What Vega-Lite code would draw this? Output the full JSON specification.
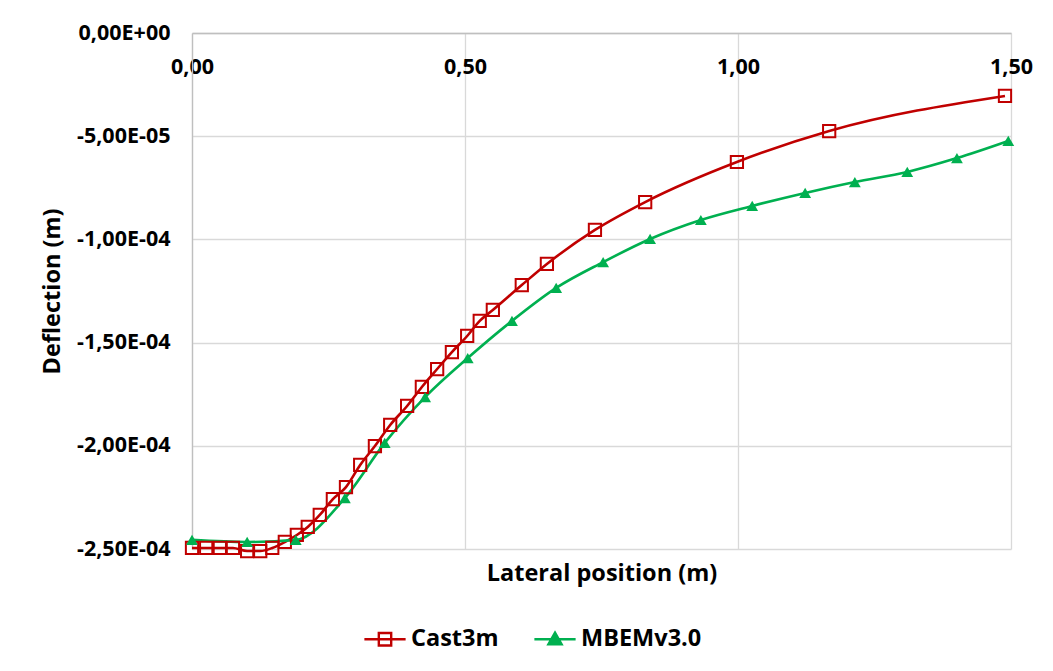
{
  "$schema": "https://vega.github.io/schema/vega-lite/v6.json",
  "width": 819,
  "height": 516,
  "autosize": {"type": "none"},
  "padding": {"left": 192, "top": 33, "right": 42, "bottom": 122},
  "background": "white",
  "config": {
    "font": "Open Sans",
    "view": {"stroke": null},
    "axis": {
      "labelFont": "Open Sans",
      "labelFontWeight": "bold",
      "labelFontSize": 21.5,
      "labelColor": "#000000",
      "titleFont": "Open Sans",
      "titleFontWeight": "bold",
      "titleFontSize": 23.5,
      "titleColor": "#000000",
      "gridColor": "#d9d9d9",
      "gridWidth": 1.3,
      "domainColor": "#bfbfbf",
      "domainWidth": 1.3,
      "ticks": false,
      "tickSize": 0
    }
  },
  "data": {
    "values": [
      {"series": "Cast3m", "x": 0.000, "y": -2.495e-4},
      {"series": "Cast3m", "x": 0.026, "y": -2.495e-4},
      {"series": "Cast3m", "x": 0.051, "y": -2.495e-4},
      {"series": "Cast3m", "x": 0.075, "y": -2.495e-4},
      {"series": "Cast3m", "x": 0.101, "y": -2.510e-4},
      {"series": "Cast3m", "x": 0.125, "y": -2.510e-4},
      {"series": "Cast3m", "x": 0.147, "y": -2.495e-4},
      {"series": "Cast3m", "x": 0.170, "y": -2.466e-4},
      {"series": "Cast3m", "x": 0.192, "y": -2.432e-4},
      {"series": "Cast3m", "x": 0.212, "y": -2.393e-4},
      {"series": "Cast3m", "x": 0.234, "y": -2.335e-4},
      {"series": "Cast3m", "x": 0.258, "y": -2.258e-4},
      {"series": "Cast3m", "x": 0.282, "y": -2.200e-4},
      {"series": "Cast3m", "x": 0.308, "y": -2.093e-4},
      {"series": "Cast3m", "x": 0.335, "y": -2.001e-4},
      {"series": "Cast3m", "x": 0.363, "y": -1.899e-4},
      {"series": "Cast3m", "x": 0.394, "y": -1.807e-4},
      {"series": "Cast3m", "x": 0.421, "y": -1.715e-4},
      {"series": "Cast3m", "x": 0.449, "y": -1.628e-4},
      {"series": "Cast3m", "x": 0.476, "y": -1.546e-4},
      {"series": "Cast3m", "x": 0.504, "y": -1.468e-4},
      {"series": "Cast3m", "x": 0.527, "y": -1.395e-4},
      {"series": "Cast3m", "x": 0.551, "y": -1.342e-4},
      {"series": "Cast3m", "x": 0.604, "y": -1.221e-4},
      {"series": "Cast3m", "x": 0.650, "y": -1.119e-4},
      {"series": "Cast3m", "x": 0.738, "y": -0.954e-4},
      {"series": "Cast3m", "x": 0.830, "y": -0.819e-4},
      {"series": "Cast3m", "x": 0.998, "y": -0.625e-4},
      {"series": "Cast3m", "x": 1.167, "y": -0.475e-4},
      {"series": "Cast3m", "x": 1.489, "y": -0.305e-4},
      {"series": "MBEMv3.0", "x": 0.000, "y": -2.456e-4},
      {"series": "MBEMv3.0", "x": 0.101, "y": -2.466e-4},
      {"series": "MBEMv3.0", "x": 0.190, "y": -2.456e-4},
      {"series": "MBEMv3.0", "x": 0.280, "y": -2.253e-4},
      {"series": "MBEMv3.0", "x": 0.353, "y": -1.986e-4},
      {"series": "MBEMv3.0", "x": 0.427, "y": -1.764e-4},
      {"series": "MBEMv3.0", "x": 0.505, "y": -1.575e-4},
      {"series": "MBEMv3.0", "x": 0.586, "y": -1.395e-4},
      {"series": "MBEMv3.0", "x": 0.667, "y": -1.235e-4},
      {"series": "MBEMv3.0", "x": 0.753, "y": -1.110e-4},
      {"series": "MBEMv3.0", "x": 0.839, "y": -0.998e-4},
      {"series": "MBEMv3.0", "x": 0.932, "y": -0.906e-4},
      {"series": "MBEMv3.0", "x": 1.026, "y": -0.838e-4},
      {"series": "MBEMv3.0", "x": 1.123, "y": -0.775e-4},
      {"series": "MBEMv3.0", "x": 1.214, "y": -0.722e-4},
      {"series": "MBEMv3.0", "x": 1.310, "y": -0.673e-4},
      {"series": "MBEMv3.0", "x": 1.401, "y": -0.606e-4},
      {"series": "MBEMv3.0", "x": 1.495, "y": -0.523e-4}
    ]
  },
  "resolve": {"scale": {"x": "shared", "y": "shared"}, "axis": {"x": "independent"}},
  "layer": [
    {
      "mark": {"type": "line", "interpolate": "monotone", "strokeWidth": 2.6, "clip": false},
      "encoding": {
        "x": {
          "field": "x", "type": "quantitative",
          "scale": {"domain": [0, 1.5], "nice": false, "zero": false},
          "axis": {
            "orient": "top",
            "values": [0, 0.5, 1, 1.5],
            "labelExpr": "replace(format(datum.value, '.2f'), '.', ',')",
            "labelPadding": -45,
            "labelBaseline": "bottom",
            "labelFlush": false,
            "labelOverlap": false,
            "grid": true,
            "domain": true,
            "title": null
          }
        },
        "y": {
          "field": "y", "type": "quantitative",
          "scale": {"domain": [-2.5e-4, 0], "nice": false, "zero": false},
          "axis": {
            "values": [0, -5e-5, -1e-4, -1.5e-4, -2e-4, -2.5e-4],
            "labelExpr": "datum.value == 0 ? '0,00E+00' : '-' + replace(format(abs(datum.value) / pow(10, floor(log(abs(datum.value)) / LN10 + 1e-9)), '.2f'), '.', ',') + 'E-0' + abs(floor(log(abs(datum.value)) / LN10 + 1e-9))",
            "labelPadding": 22,
            "labelFlush": false,
            "labelOverlap": false,
            "grid": true,
            "title": "Deflection (m)",
            "titleX": -140,
            "titleY": 258,
            "titleAlign": "center",
            "titleBaseline": "middle",
            "titleAngle": -90
          }
        },
        "color": {
          "field": "series", "type": "nominal",
          "scale": {"domain": ["Cast3m", "MBEMv3.0"], "range": ["#c00000", "#00b050"]},
          "legend": {
            "orient": "none",
            "legendX": 171,
            "legendY": 584,
            "direction": "horizontal",
            "title": null,
            "labelFont": "Open Sans",
            "labelFontWeight": "bold",
            "labelFontSize": 23.5,
            "labelColor": "#000000",
            "symbolSize": 1700,
            "symbolStrokeWidth": 2.4,
            "columnPadding": 30,
            "labelOffset": 4,
            "encode": {
              "symbols": {
                "update": {
                  "shape": {"signal": "datum.value == 'Cast3m' ? 'M-1,0H-0.3M0.3,0H1M-0.3,-0.3H0.3V0.3H-0.3Z M-0.3,0H0.3' : 'M-1,0H1M0,-0.32L0.32,0.24H-0.32Z'"},
                  "fill": {"signal": "datum.value == 'Cast3m' ? 'transparent' : '#00b050'"},
                  "stroke": {"signal": "datum.value == 'Cast3m' ? '#c00000' : '#00b050'"},
                  "opacity": {"value": 1}
                }
              }
            }
          }
        }
      }
    },
    {
      "transform": [{"filter": "datum.series == 'Cast3m'"}],
      "mark": {"type": "point", "shape": "square", "filled": false, "size": 150, "strokeWidth": 2, "color": "#c00000", "opacity": 1, "clip": false},
      "encoding": {
        "x": {
          "field": "x", "type": "quantitative",
          "axis": {
            "orient": "bottom",
            "labels": false,
            "ticks": false,
            "domain": false,
            "grid": false,
            "title": "Lateral position (m)",
            "titleY": 24,
            "titleBaseline": "middle"
          }
        },
        "y": {"field": "y", "type": "quantitative", "title": "Deflection (m)"}
      }
    },
    {
      "transform": [{"filter": "datum.series == 'MBEMv3.0'"}],
      "mark": {"type": "point", "shape": "triangle-up", "filled": true, "size": 140, "color": "#00b050", "opacity": 1, "clip": false},
      "encoding": {
        "x": {"field": "x", "type": "quantitative", "axis": null},
        "y": {"field": "y", "type": "quantitative", "title": "Deflection (m)"}
      }
    }
  ]
}
